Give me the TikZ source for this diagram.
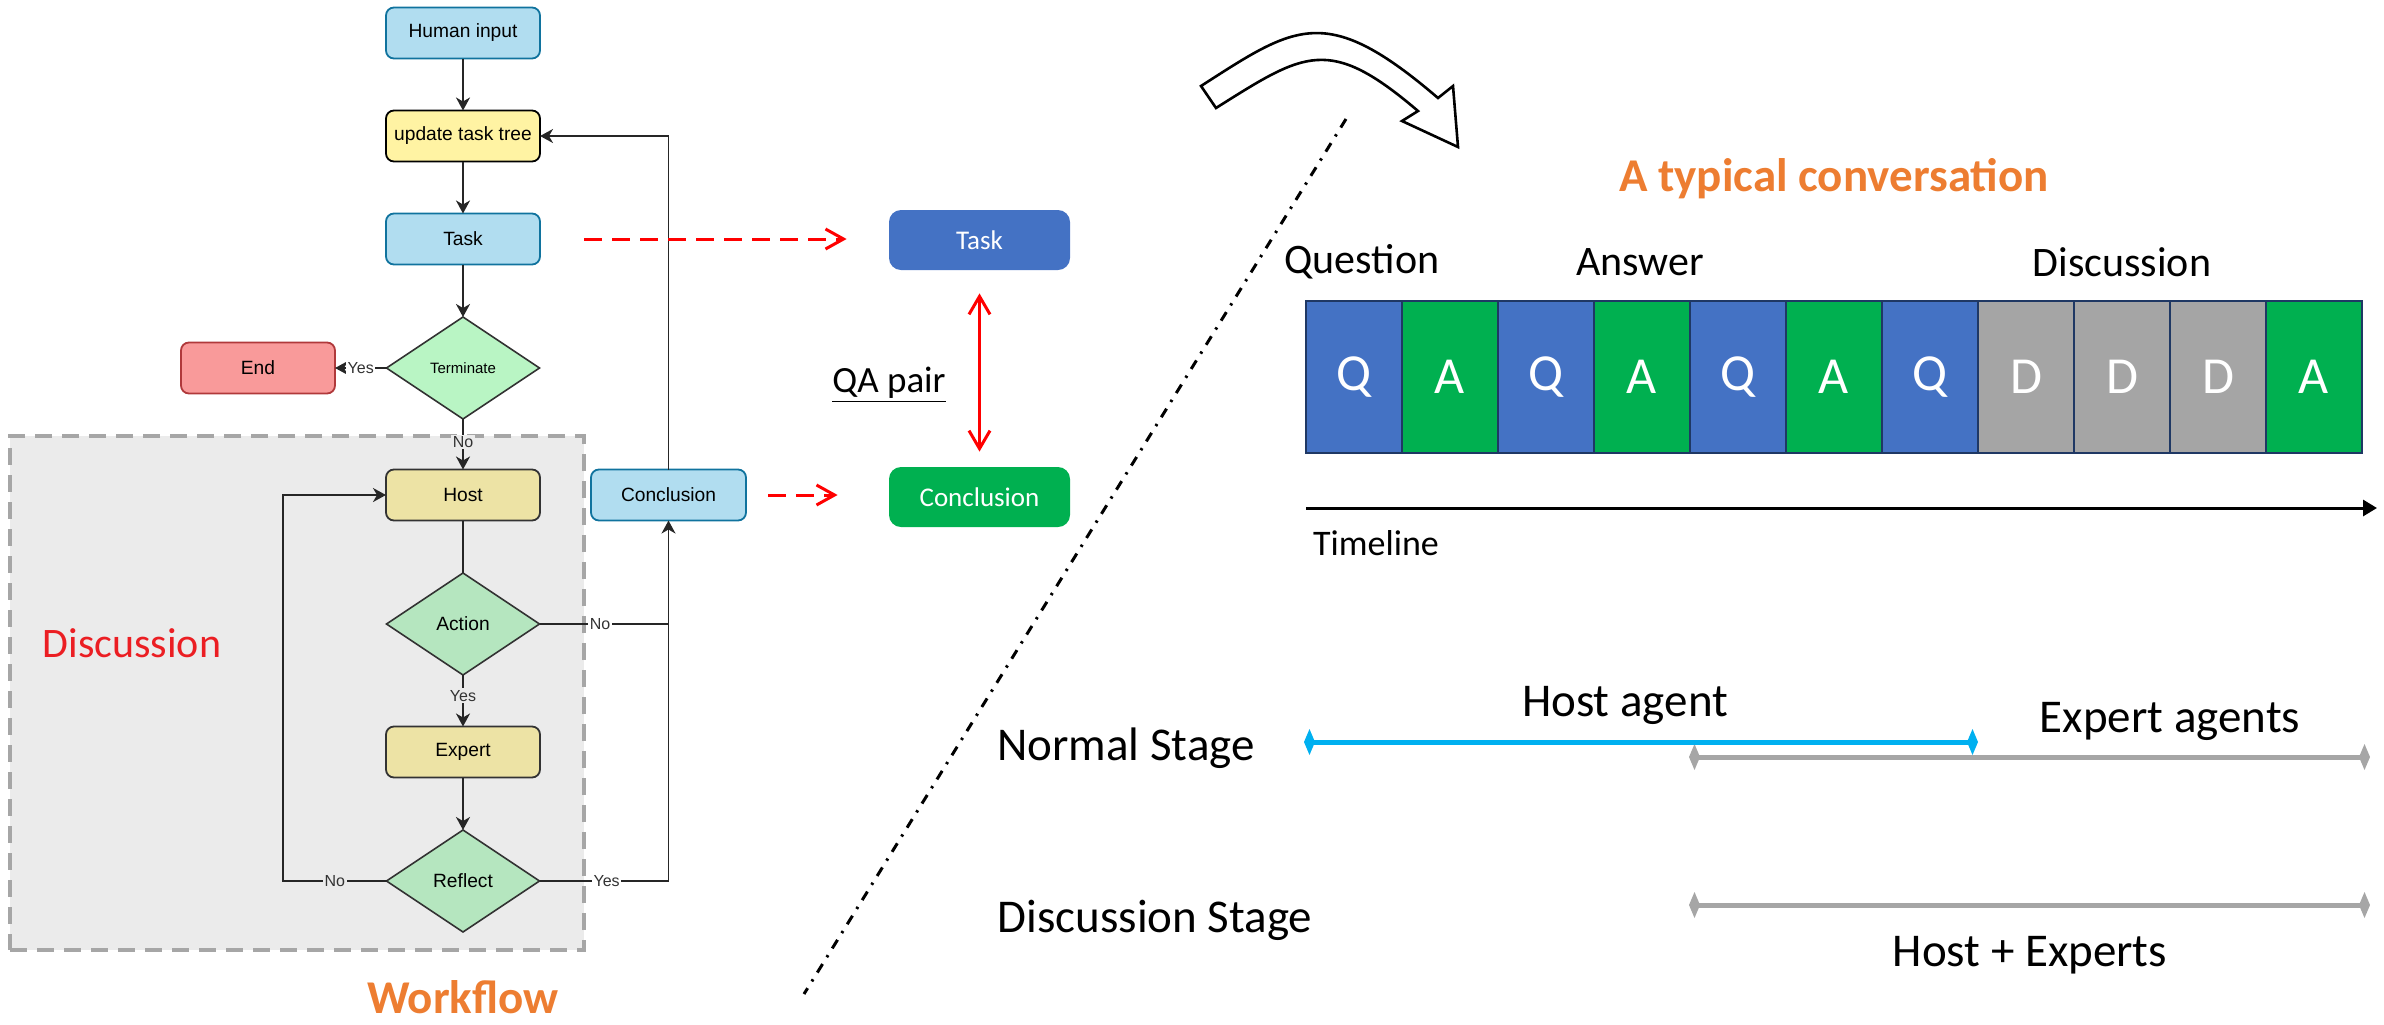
\documentclass[tikz,border=0pt]{standalone}
\usepackage{fontspec}
\setmainfont{Carlito}
\newfontfamily\flowfont{Liberation Sans}
\usetikzlibrary{arrows.meta,shapes.geometric,calc}

\definecolor{lbFill}{HTML}{B1DDF0}
\definecolor{lbStroke}{HTML}{10739E}
\definecolor{yelFill}{HTML}{FFF3A3}
\definecolor{khakiFill}{HTML}{EDE3A5}
\definecolor{termGreen}{HTML}{B9F5C4}
\definecolor{decGreen}{HTML}{B5E6BF}
\definecolor{endFill}{HTML}{F99A9A}
\definecolor{endStroke}{HTML}{B0393B}
\definecolor{dkStroke}{HTML}{333333}
\definecolor{bgGray}{HTML}{EBEBEB}
\definecolor{dashGray}{HTML}{A6A6A6}
\definecolor{arrowRed}{HTML}{FF0000}
\definecolor{discRed}{HTML}{EB1E23}
\definecolor{qBlue}{HTML}{4472C4}
\definecolor{aGreen}{HTML}{00B050}
\definecolor{dGray}{HTML}{A5A5A5}
\definecolor{navy}{HTML}{1F3864}
\definecolor{orangeT}{HTML}{ED7D31}
\definecolor{cyanL}{HTML}{00B0F0}

\begin{document}
\begin{tikzpicture}[x=0.5pt,y=-0.5pt,
  flowbox/.style={rectangle, rounded corners=4pt, minimum width=77pt, minimum height=25.5pt,
    inner sep=0pt, outer sep=0pt, line width=0.9pt, font=\flowfont\fontsize{9.6}{11}\selectfont},
  bluebox/.style={flowbox, fill=lbFill, draw=lbStroke},
  yellowbox/.style={flowbox, fill=yelFill, draw=black},
  khakibox/.style={flowbox, fill=khakiFill, draw=dkStroke},
  endbox/.style={flowbox, fill=endFill, draw=endStroke},
  decision/.style={diamond, aspect=1.5, minimum width=76.5pt, minimum height=51pt,
    inner sep=0pt, outer sep=0pt, draw=dkStroke, line width=0.8pt, fill=decGreen,
    font=\flowfont\fontsize{9.6}{11}\selectfont},
  conn/.style={line width=0.9pt, draw=black!85, -{Stealth[length=6.5pt,width=7pt,inset=2pt]}},
  plainline/.style={line width=0.9pt, draw=black!85},
  lbl/.style={font=\flowfont\fontsize{8}{9}\selectfont, text=black!80, inner sep=0.8pt},
  redtip/.style={arrowRed, line width=1.5pt},
  reddash/.style={redtip, dash pattern=on 9pt off 5pt, -{Straight Barb[length=9pt,width=10pt]}},
  qabox/.style={rectangle, rounded corners=6pt, minimum width=90.5pt, minimum height=30pt,
    inner sep=0pt, text=white, font=\fontsize{13.5}{16}\selectfont},
  cell/.style={rectangle, minimum width=48pt, minimum height=76pt, inner sep=0pt,
    draw=navy, line width=1.1pt, text=white, font=\fontsize{26}{30}\selectfont},
  hdr/.style={inner sep=0pt, font=\fontsize{21}{25}\selectfont},
  stage/.style={inner sep=0pt, font=\fontsize{23.5}{28}\selectfont},
  bar/.style={line width=2.5pt, {Diamond[length=5.5pt,width=13pt]}-{Diamond[length=5.5pt,width=13pt]}}
]
\useasboundingbox (0,0) rectangle (2384,1024);

% ---------- workflow (left) ----------
\node[rectangle, fill=bgGray, draw=dashGray, line width=2pt, dash pattern=on 8.5pt off 5pt,
  minimum width=287pt, minimum height=257pt, inner sep=0pt] (discbox) at (297,693) {};
\node[inner sep=0pt, text=discRed, font=\fontsize{21}{25}\selectfont] (disclabel) at (132,643) {Discussion};

\node[bluebox] (human) at (463,33) {Human input};
\node[yellowbox] (update) at (463,136) {update task tree};
\node[bluebox] (task) at (463,239) {Task};
\node[decision, fill=termGreen, font=\flowfont\fontsize{7.5}{9}\selectfont] (term) at (463,368) {Terminate};
\node[endbox] (endn) at (258,368) {End};
\node[khakibox] (host) at (463,495) {Host};
\node[decision] (action) at (463,624) {Action};
\node[khakibox] (expert) at (463,752) {Expert};
\node[decision] (reflect) at (463,881) {Reflect};
\node[bluebox, minimum width=77.5pt] (concl) at (668.5,495) {Conclusion};
\coordinate (loopx) at (283,881);

\draw[conn] (human) -- (update);
\draw[conn] (update) -- (task);
\draw[conn] (task) -- (term);
\draw[conn] (term.west) -- node[lbl, fill=white]{Yes} (endn.east);
\draw[conn] (term.south) -- node[lbl, fill=bgGray, pos=0.45]{No} (host.north);
\draw[plainline] (host.south) -- (action.north);
\draw[conn] (action.south) -- node[lbl, fill=bgGray, pos=0.4]{Yes} (expert.north);
\draw[conn] (expert.south) -- (reflect.north);
\draw[conn] (reflect.west) -- node[lbl, fill=bgGray, pos=0.5]{No} (loopx) |- (host.west);
\draw[conn] (action.east) -- node[lbl, fill=white, pos=0.47]{No} (action.east -| concl.south) -- (concl.south);
\draw[plainline] (reflect.east) -- node[lbl, fill=white, pos=0.52]{Yes} (reflect.east -| concl.south) -- (action.east -| concl.south);
\draw[conn] (concl.north) |- (update.east);

\node[inner sep=0pt, text=orangeT, font=\bfseries\fontsize{23.5}{28}\selectfont] (workflow) at (463,997) {Workflow};

% ---------- QA pair ----------
\node[qabox, fill=qBlue] (taskB) at (979.5,240) {Task};
\node[qabox, fill=aGreen] (conclB) at (979.5,497) {Conclusion};
\draw[reddash] ([xshift=22pt]task.east) -- ([xshift=-21pt]taskB.west |- task.east);
\draw[reddash] ([xshift=11pt]concl.east) -- ([xshift=-25.5pt]conclB.west |- concl.east);
\draw[redtip, {Straight Barb[length=9pt,width=10.5pt]}-{Straight Barb[length=9pt,width=10.5pt]}]
  ([yshift=-11.5pt]taskB.south) -- ([yshift=7.5pt]conclB.north);
\node[inner sep=0pt, font=\fontsize{18.5}{22}\selectfont] (qa) at (889,385) {\underline{QA pair}};

% ---------- separator and turn arrow ----------
\coordinate (sep0) at (1346,119);
\coordinate (sep1) at (804,994);
\draw[line width=1.5pt, dash pattern=on 5pt off 4pt on 1.2pt off 4pt] (sep0) -- (sep1);
\draw[line width=1.3pt, fill=white, line join=miter]
  (1201,86) .. controls (1296,25) and (1326,2) .. (1438,98)
  -- (1453,86) -- (1458,147) -- (1402,121) -- (1418,111)
  .. controls (1329,35) and (1305,52) .. (1216,108) -- cycle;

% ---------- conversation (right) ----------
\node[inner sep=0pt, text=orangeT, font=\bfseries\fontsize{23.5}{28}\selectfont] (conv) at (1834,179) {A typical conversation};
\node[hdr] (hq) at (1362,262) {Question};
\node[hdr] (ha) at (1640,262) {Answer};
\node[hdr] (hd) at (2122,262) {Discussion};

\foreach \L/\C [count=\i] in {Q/qBlue,A/aGreen,Q/qBlue,A/aGreen,Q/qBlue,A/aGreen,Q/qBlue,D/dGray,D/dGray,D/dGray,A/aGreen}
  \node[cell, fill=\C] (c\i) at ({1354+96*(\i-1)},377) {\L};

\coordinate (tl0) at (1306,508);
\coordinate (tl1) at (2377,508);
\draw[line width=1.5pt, -{Triangle[length=7pt,width=8pt]}] (tl0) -- (tl1);
\node[inner sep=0pt, font=\fontsize{18}{22}\selectfont] (tlabel) at (1376,543) {Timeline};

% ---------- stages ----------
\node[stage] (normal) at (1126,748) {Normal Stage};
\node[stage] (discst) at (1155,920) {Discussion Stage};
\node[stage] (hostag) at (1625,705) {Host agent};
\node[stage] (expag) at (2170,721) {Expert agents};
\node[stage] (hostexp) at (2030,955) {Host + Experts};

\coordinate (b0) at (1304,742);
\coordinate (b1) at (1978,742);
\coordinate (g0) at (1689,757);
\coordinate (g1) at (2370,757);
\coordinate (h0) at (1689,905);
\coordinate (h1) at (2370,905);
\draw[bar, dashGray] (g0) -- (g1);
\draw[bar, dashGray] (h0) -- (h1);
\draw[bar, cyanL] (b0) -- (b1);
\end{tikzpicture}
\end{document}
